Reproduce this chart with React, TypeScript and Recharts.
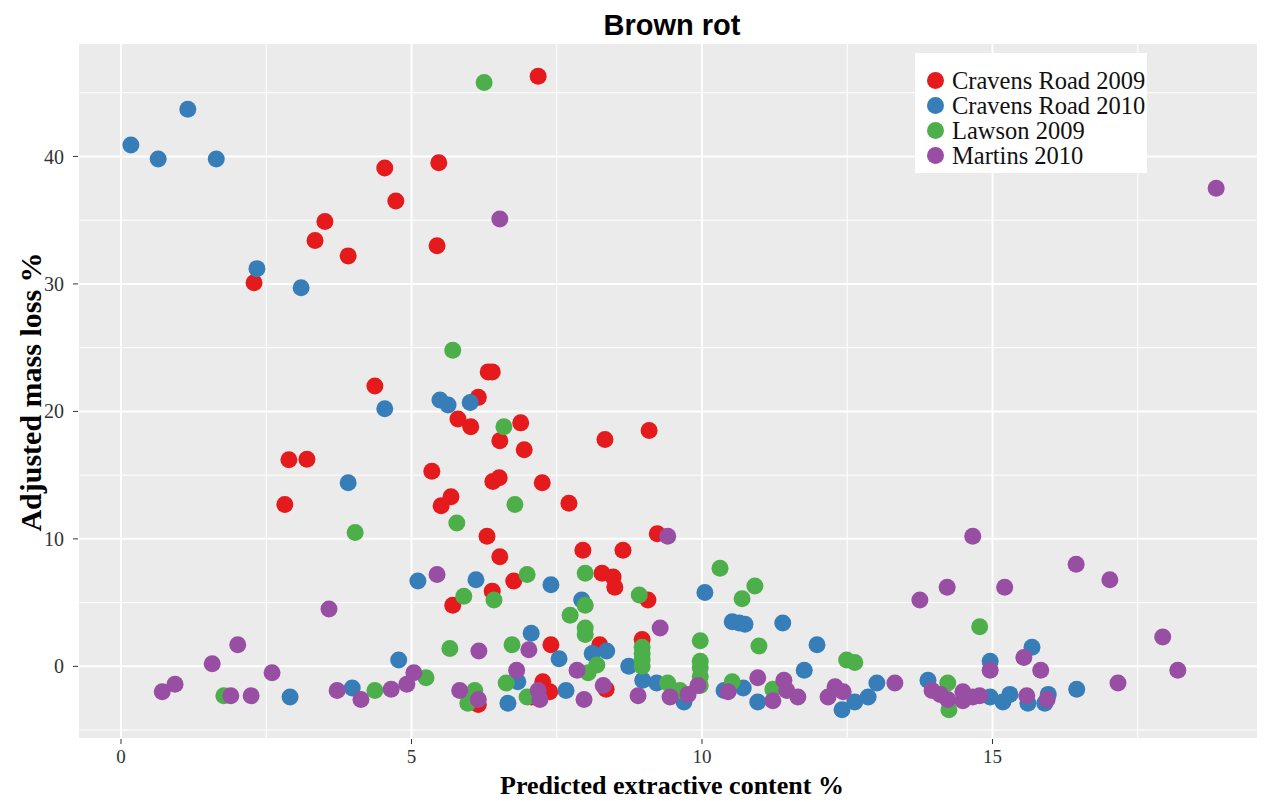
import { CartesianGrid, Label, Scatter, ScatterChart, XAxis, YAxis } from 'recharts';

// [predicted extractive content %, adjusted mass loss %]
const cravensRoad2009: [number, number][] = [
  [7.18, 46.3], [4.54, 39.1], [5.47, 39.5], [4.73, 36.5], [3.51, 34.9], [3.34, 33.4], [5.44, 33.0],
  [3.91, 32.2], [2.29, 30.1], [4.37, 22.0], [6.32, 23.1], [6.39, 23.1], [6.15, 21.1], [5.8, 19.4],
  [6.02, 18.8], [6.88, 19.1], [6.52, 17.7], [6.94, 17.0], [8.33, 17.8], [9.09, 18.5], [2.89, 16.2],
  [3.2, 16.25], [2.82, 12.7], [5.35, 15.3], [6.4, 14.5], [6.51, 14.8], [7.25, 14.4], [5.68, 13.3],
  [5.51, 12.6], [7.71, 12.8], [6.3, 10.2], [9.23, 10.4], [6.52, 8.6], [7.95, 9.1], [8.64, 9.1],
  [6.76, 6.7], [8.28, 7.3], [8.47, 7.0], [8.5, 6.2], [5.71, 4.8], [6.39, 5.9], [9.07, 5.2],
  [7.4, 1.7], [8.24, 1.7], [8.97, 2.1], [6.15, -3.0], [7.26, -1.2], [7.38, -2.0], [7.07, -2.4],
  [8.35, -1.8],
];

const cravensRoad2010: [number, number][] = [
  [1.15, 43.7], [0.17, 40.9], [0.64, 39.8], [1.64, 39.8], [2.34, 31.2], [3.1, 29.7], [4.54, 20.2],
  [5.49, 20.9], [5.63, 20.5], [6.01, 20.7], [3.91, 14.4], [5.11, 6.7], [6.11, 6.8], [7.4, 6.4],
  [7.93, 5.2], [10.05, 5.8], [10.52, 3.5], [10.64, 3.4], [10.74, 3.3], [11.39, 3.4], [11.98, 1.7],
  [11.76, -0.3], [4.78, 0.5], [7.06, 2.6], [7.54, 0.6], [8.11, 1.0], [8.36, 1.2], [8.74, 0.0],
  [8.98, -1.1], [9.22, -1.3], [9.69, -2.8], [10.38, -1.9], [10.71, -1.7], [10.96, -2.8], [2.91, -2.4],
  [3.98, -1.7], [6.83, -1.2], [6.66, -2.9], [7.66, -1.9], [12.41, -3.4], [12.63, -2.8], [12.86, -2.4],
  [13.01, -1.3], [13.89, -1.1], [14.96, 0.4], [15.68, 1.5], [14.96, -2.4], [15.18, -2.8], [15.3, -2.2],
  [15.61, -2.9], [15.9, -2.9], [15.96, -2.2], [16.45, -1.8],
];

const lawson2009: [number, number][] = [
  [6.25, 45.8], [5.71, 24.8], [6.59, 18.8], [6.78, 12.7], [5.78, 11.25], [4.03, 10.5], [6.99, 7.2],
  [5.9, 5.5], [6.42, 5.2], [7.99, 7.3], [7.99, 4.8], [7.73, 4.0], [7.99, 3.0], [7.99, 2.5], [8.92, 5.6],
  [10.31, 7.7], [10.91, 6.3], [10.69, 5.3], [5.66, 1.4], [6.73, 1.7], [8.04, -0.5], [8.19, 0.1],
  [8.97, 1.5], [8.97, 1.0], [8.97, 0.5], [8.97, 0.0], [9.97, 2.0], [9.97, 0.4], [9.97, -0.1],
  [9.97, -0.8], [9.97, -1.5], [10.98, 1.6], [12.49, 0.5], [12.63, 0.3], [14.78, 3.1], [1.77, -2.3],
  [4.37, -1.9], [5.25, -0.9], [5.97, -2.9], [6.09, -1.9], [6.63, -1.3], [6.99, -2.4], [9.41, -1.3],
  [9.62, -1.9], [10.52, -1.2], [11.22, -1.8], [14.23, -1.3], [14.25, -3.4],
];

const martins2010: [number, number][] = [
  [18.85, 37.5], [6.52, 35.1], [9.41, 10.2], [14.66, 10.2], [16.44, 8.0], [17.02, 6.8], [14.22, 6.2],
  [15.21, 6.2], [13.75, 5.2], [17.93, 2.3], [18.19, -0.3], [17.16, -1.3], [3.58, 4.5], [5.44, 7.2],
  [9.28, 3.0], [2.01, 1.7], [1.57, 0.2], [6.16, 1.2], [7.02, 1.3], [2.6, -0.5], [0.71, -2.0],
  [0.93, -1.4], [1.89, -2.3], [2.24, -2.3], [3.72, -1.9], [4.13, -2.6], [4.65, -1.8], [4.92, -1.4],
  [5.04, -0.5], [5.83, -1.9], [6.15, -2.6], [6.81, -0.3], [7.18, -1.9], [7.21, -2.6], [7.85, -0.3],
  [7.97, -2.6], [8.3, -1.5], [8.9, -2.3], [9.45, -2.4], [9.76, -2.2], [9.93, -1.5], [10.45, -2.0],
  [10.96, -0.9], [11.22, -2.7], [11.41, -1.1], [11.46, -1.9], [11.65, -2.4], [12.17, -2.4],
  [12.29, -1.6], [12.43, -2.0], [13.32, -1.3], [13.96, -1.9], [14.1, -2.2], [14.23, -2.6],
  [14.49, -2.0], [14.49, -2.7], [14.66, -2.4], [14.78, -2.3], [14.96, -0.3], [15.54, 0.7],
  [15.83, -0.3], [15.59, -2.3], [15.94, -2.6],
];

const seriesNames = ['Cravens Road 2009', 'Cravens Road 2010', 'Lawson 2009', 'Martins 2010'];
const seriesColors = ['#E41A1C', '#377EB8', '#4DAF4A', '#984EA3'];
const seriesPoints = [cravensRoad2009, cravensRoad2010, lawson2009, martins2010];

const xTicks = [0, 5, 10, 15];
const yTicks = [0, 10, 20, 30, 40];
const xMinor = [2.5, 7.5, 12.5, 17.5];
const yMinor = [-5, 5, 15, 25, 35, 45];

const X_DOMAIN: [number, number] = [-0.74, 19.57];
const Y_DOMAIN: [number, number] = [-5.7, 48.9];
const PLOT = { left: 78, top: 43, width: 1180, height: 696 };
const DOT_R = 8.5;

const serif = '"Liberation Serif", "Times New Roman", serif';

// grid helpers for the minor lines (same mapping as the axes' domains)
const toPx = (v: number) => PLOT.left + ((v - X_DOMAIN[0]) / (X_DOMAIN[1] - X_DOMAIN[0])) * PLOT.width;
const toPy = (v: number) => PLOT.top + ((Y_DOMAIN[1] - v) / (Y_DOMAIN[1] - Y_DOMAIN[0])) * PLOT.height;

export default function App() {
  const series = seriesNames.map((name, i) => ({
    name,
    color: seriesColors[i],
    data: seriesPoints[i].map(([x, y]) => ({ x, y })),
  }));

  return (
    <div style={{ position: 'absolute', left: 0, top: 0, width: 1266, height: 802, background: '#fff' }}>
      <ScatterChart width={1266} height={802} margin={{ top: 43, right: 8, bottom: 0, left: 0 }}>
        <CartesianGrid
          fill="#EBEBEB"
          stroke="#ffffff"
          strokeWidth={1}
          horizontalPoints={yMinor.map(toPy)}
          verticalPoints={xMinor.map(toPx)}
        />
        <CartesianGrid fill="none" stroke="#ffffff" strokeWidth={2} />
        <XAxis
          type="number"
          dataKey="x"
          domain={X_DOMAIN}
          ticks={xTicks}
          allowDataOverflow
          height={63}
          axisLine={false}
          tickSize={5}
          tickMargin={6}
          tickLine={{ stroke: '#333333' }}
          tick={{ fill: '#333333', fontSize: 19, fontFamily: serif }}
        >
          <Label
            content={() => (
              <text x={672} y={794} textAnchor="middle" fontFamily={serif} fontWeight="bold" fontSize={26} fill="#000">
                Predicted extractive content %
              </text>
            )}
          />
        </XAxis>
        <YAxis
          type="number"
          dataKey="y"
          domain={Y_DOMAIN}
          ticks={yTicks}
          allowDataOverflow
          width={78}
          axisLine={false}
          tickSize={5}
          tickMargin={9}
          tickLine={{ stroke: '#333333' }}
          tick={{ fill: '#333333', fontSize: 20, fontFamily: serif }}
        >
          <Label
            content={() => (
              <text
                x={30}
                y={392}
                transform="rotate(-90 30 392)"
                textAnchor="middle"
                dominantBaseline="central"
                fontFamily={serif}
                fontWeight="bold"
                fontSize={30}
                fill="#000"
              >
                Adjusted mass loss %
              </text>
            )}
          />
        </YAxis>
        {series.map((s) => (
          <Scatter
            key={s.name}
            name={s.name}
            data={s.data}
            fill={s.color}
            isAnimationActive={false}
            shape={(p: any) => <circle cx={p.cx} cy={p.cy} r={DOT_R} fill={s.color} />}
          />
        ))}
      </ScatterChart>

      <div
        style={{
          position: 'absolute',
          left: 0,
          top: 7,
          width: 1344,
          textAlign: 'center',
          fontFamily: '"Liberation Sans", Arial, sans-serif',
          fontWeight: 'bold',
          fontSize: 29,
          lineHeight: '36px',
          color: '#000',
        }}
      >
        Brown rot
      </div>

      <div
        style={{
          position: 'absolute',
          left: 915,
          top: 53,
          width: 232,
          height: 120,
          background: '#fff',
          fontFamily: serif,
          fontSize: 24.5,
          color: '#111',
        }}
      >
        {series.map((s, i) => (
          <div
            key={s.name}
            style={{ position: 'absolute', left: 12, top: 15 + i * 25, height: 25, display: 'flex', alignItems: 'center' }}
          >
            <span
              style={{ display: 'inline-block', width: 17, height: 17, borderRadius: '50%', background: s.color, marginRight: 8 }}
            />
            <span style={{ whiteSpace: 'nowrap' }}>{s.name}</span>
          </div>
        ))}
      </div>
    </div>
  );
}
